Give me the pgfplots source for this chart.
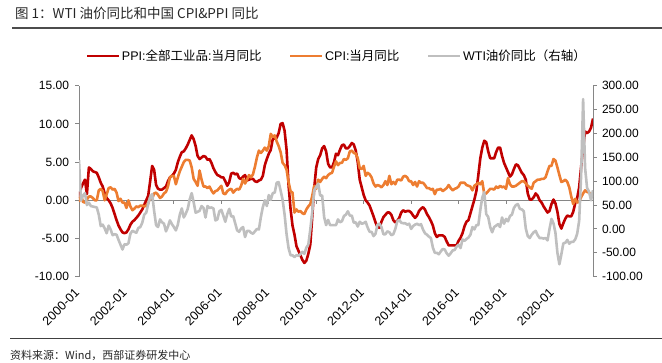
\documentclass[border=0pt]{standalone}
\usepackage{pgfplots}
\pgfplotsset{compat=1.18}
\usepackage{pgfplotstable}
\usepackage{fontspec}
\setmainfont{Liberation Sans}
\newfontfamily\cjk{Noto Sans CJK SC}
\definecolor{ppired}{RGB}{192,0,0}
\definecolor{cpiorange}{RGB}{237,125,49}
\definecolor{wtigray}{RGB}{191,191,191}
\definecolor{axgray}{RGB}{134,134,134}

% PPI YoY (%), monthly from 2000-01 to 2021-09
\pgfplotstableread[row sep=\\, header=false]{
0.3\\1.6\\2.2\\2.7\\0.8\\4.3\\4.1\\3.8\\3.7\\3.6\\3.0\\2.3\\
1.8\\0.9\\0.3\\0.0\\-0.4\\-1.0\\-1.8\\-2.6\\-3.3\\-3.8\\-4.2\\-4.3\\
-4.2\\-3.8\\-3.2\\-2.8\\-2.6\\-2.3\\-2.0\\-1.6\\-1.2\\-0.6\\0.0\\0.6\\
2.5\\4.5\\4.0\\2.0\\1.5\\1.4\\1.4\\1.6\\1.8\\2.5\\3.0\\3.2\\
3.5\\4.0\\5.0\\5.7\\6.3\\6.4\\6.8\\7.3\\7.9\\8.5\\8.0\\7.1\\
5.8\\5.4\\5.6\\5.8\\5.7\\5.3\\5.4\\4.9\\4.2\\3.7\\3.3\\3.2\\
3.0\\3.0\\2.5\\1.9\\2.4\\3.5\\3.6\\3.4\\3.5\\2.9\\2.8\\3.1\\
3.3\\2.6\\2.7\\2.8\\2.8\\2.5\\2.4\\2.6\\2.7\\3.2\\4.6\\5.4\\
6.1\\6.6\\8.0\\8.1\\8.2\\8.8\\10.0\\10.1\\9.1\\6.6\\2.0\\-1.1\\
-3.3\\-4.5\\-6.0\\-6.6\\-7.2\\-7.8\\-8.2\\-7.9\\-7.0\\-5.8\\-2.1\\1.7\\
4.3\\5.4\\5.9\\6.8\\7.1\\6.4\\4.8\\4.3\\4.3\\5.0\\6.1\\5.9\\
6.6\\7.2\\7.3\\6.8\\6.8\\7.1\\7.5\\7.3\\6.5\\5.0\\2.7\\1.7\\
0.7\\0.0\\-0.3\\-0.7\\-1.4\\-2.1\\-2.9\\-3.5\\-3.6\\-2.8\\-2.2\\-1.9\\
-1.6\\-1.6\\-1.9\\-2.6\\-2.9\\-2.7\\-2.3\\-1.6\\-1.3\\-1.5\\-1.4\\-1.4\\
-1.6\\-2.0\\-2.3\\-2.0\\-1.4\\-1.1\\-0.9\\-1.2\\-1.8\\-2.2\\-2.7\\-3.3\\
-4.3\\-4.8\\-4.6\\-4.6\\-4.6\\-4.8\\-5.4\\-5.9\\-5.9\\-5.9\\-5.9\\-5.9\\
-5.3\\-4.9\\-4.3\\-3.4\\-2.8\\-2.6\\-1.7\\-0.8\\0.1\\1.2\\3.3\\5.5\\
6.9\\7.8\\7.6\\6.4\\5.5\\5.5\\5.5\\6.3\\6.9\\6.9\\5.8\\4.9\\
4.3\\3.7\\3.1\\3.4\\4.1\\4.7\\4.6\\4.1\\3.6\\3.3\\2.7\\0.9\\
0.1\\0.1\\0.4\\0.9\\0.6\\0.0\\-0.3\\-0.8\\-1.2\\-1.6\\-1.4\\-0.5\\
0.1\\-0.4\\-1.5\\-3.1\\-3.7\\-3.0\\-2.4\\-2.0\\-2.1\\-2.1\\-1.5\\-0.4\\
0.3\\1.7\\4.4\\6.8\\9.0\\8.8\\9.0\\9.5\\10.7\\
}\ppidata

% CPI YoY (%)
\pgfplotstableread[row sep=\\, header=false]{
-0.2\\0.7\\-0.2\\-0.3\\0.1\\0.5\\0.5\\0.3\\0.0\\0.0\\1.3\\1.5\\
1.2\\0.0\\0.8\\1.6\\1.7\\1.4\\1.5\\1.0\\-0.1\\0.2\\-0.3\\-0.3\\
-1.0\\0.0\\-0.8\\-1.3\\-1.1\\-0.8\\-0.9\\-0.7\\-0.7\\-0.8\\-0.7\\-0.4\\
0.4\\0.2\\0.9\\1.0\\0.7\\0.3\\0.5\\0.9\\1.1\\1.8\\3.0\\3.2\\
3.2\\2.1\\3.0\\3.8\\4.4\\5.0\\5.3\\5.3\\5.2\\4.3\\2.8\\2.4\\
1.9\\3.9\\2.7\\1.8\\1.8\\1.6\\1.8\\1.3\\0.9\\1.2\\1.3\\1.6\\
1.9\\0.9\\0.8\\1.2\\1.4\\1.5\\1.0\\1.3\\1.5\\1.4\\1.9\\2.8\\
2.2\\2.7\\3.3\\3.0\\3.4\\4.4\\5.6\\6.5\\6.2\\6.5\\6.9\\6.5\\
7.1\\8.7\\8.3\\8.5\\7.7\\7.1\\6.3\\4.9\\4.6\\4.0\\2.4\\1.2\\
1.0\\-1.6\\-1.2\\-1.5\\-1.4\\-1.7\\-1.8\\-1.2\\-0.8\\-0.5\\0.6\\1.9\\
1.5\\2.7\\2.4\\2.8\\3.1\\2.9\\3.3\\3.5\\3.6\\4.4\\5.1\\4.6\\
4.9\\4.9\\5.4\\5.3\\5.5\\6.4\\6.5\\6.2\\6.1\\5.5\\4.2\\4.1\\
4.5\\3.2\\3.6\\3.4\\3.0\\2.2\\1.8\\2.0\\1.9\\1.7\\2.0\\2.5\\
2.0\\3.2\\2.1\\2.4\\2.1\\2.7\\2.7\\2.6\\3.1\\3.2\\3.0\\2.5\\
2.5\\2.0\\2.4\\1.8\\2.5\\2.3\\2.3\\2.0\\1.6\\1.6\\1.4\\1.5\\
0.8\\1.4\\1.4\\1.5\\1.2\\1.4\\1.6\\2.0\\1.6\\1.3\\1.5\\1.6\\
1.8\\2.3\\2.3\\2.3\\2.0\\1.9\\1.8\\1.3\\1.9\\2.1\\2.3\\2.1\\
2.5\\0.8\\0.9\\1.2\\1.5\\1.5\\1.4\\1.8\\1.6\\1.9\\1.7\\1.8\\
1.5\\2.9\\2.1\\1.8\\1.8\\1.9\\2.1\\2.3\\2.5\\2.5\\2.2\\1.9\\
1.7\\1.5\\2.3\\2.5\\2.7\\2.7\\2.8\\2.8\\3.0\\3.8\\4.5\\4.5\\
5.4\\5.2\\4.3\\3.3\\2.4\\2.5\\2.7\\2.4\\1.7\\0.5\\-0.5\\0.2\\
-0.3\\-0.2\\0.4\\0.9\\1.3\\1.1\\1.0\\0.8\\0.7\\
}\cpidata

% WTI oil price YoY (%), right axis
\pgfplotstableread[row sep=\\, header=false]{
144\\60\\70\\75\\50\\55\\48\\47\\46\\45\\30\\6\\
9\\1\\-9\\7\\-1\\-13\\-11\\-12\\-23\\-33\\-43\\-32\\
-33\\-30\\-10\\-4\\-6\\-8\\2\\4\\13\\30\\34\\52\\
67\\73\\38\\8\\4\\20\\14\\11\\-5\\5\\18\\10\\
4\\-3\\9\\30\\43\\24\\32\\42\\62\\75\\56\\34\\
36\\38\\48\\44\\24\\48\\44\\45\\43\\18\\20\\37\\
40\\28\\15\\31\\42\\26\\27\\12\\-3\\-6\\1\\4\\
-17\\-4\\-4\\-8\\-10\\-5\\0\\-1\\25\\46\\60\\48\\
71\\61\\75\\76\\97\\98\\80\\61\\30\\-11\\-40\\-55\\
-55\\-59\\-55\\-56\\-53\\-48\\-52\\-39\\-33\\-1\\36\\81\\
88\\95\\70\\70\\25\\8\\19\\8\\8\\8\\8\\20\\
14\\16\\27\\30\\37\\28\\28\\13\\14\\5\\15\\11\\
12\\15\\3\\-6\\-6\\-15\\-10\\9\\11\\4\\-11\\-11\\
-5\\-7\\-13\\-11\\0\\16\\19\\13\\12\\12\\9\\11\\
0\\6\\9\\11\\8\\10\\-1\\-9\\-12\\-16\\-19\\-39\\
-50\\-50\\-53\\-47\\-42\\-43\\-51\\-56\\-51\\-45\\-44\\-37\\
-33\\-40\\-22\\-25\\-21\\-18\\-12\\4\\-1\\8\\8\\40\\
66\\77\\31\\25\\4\\-7\\4\\7\\10\\4\\24\\11\\
21\\16\\27\\30\\44\\50\\52\\42\\41\\37\\1\\-15\\
-19\\-12\\-7\\-4\\-13\\-19\\-19\\-20\\-19\\-24\\0\\21\\
12\\-8\\-50\\-74\\-53\\-30\\-29\\-23\\-31\\-27\\-27\\-22\\
-10\\17\\113\\272\\128\\86\\78\\60\\81\\
}\wtidata

\pgfplotsset{
  common/.style={
    at={(79pt,85.3pt)}, anchor=south west,
    scale only axis, width=514pt, height=191pt,
    xmin=0, xmax=260,
    major tick length=3.5pt,
    tick align=outside,
  }
}

\begin{document}
\begin{tikzpicture}
\path[use as bounding box] (0pt,0pt) rectangle (662pt,362pt);
\node[anchor=west, inner sep=0pt, font=\cjk\fontsize{13.5}{15}\selectfont, text=black!85] at (15pt,349pt) {图 1：WTI 油价同比和中国 CPI\&PPI 同比};
\draw[line width=1.3pt, black!70] (12pt,334pt) -- (662pt,334pt);
\draw[line width=1pt, black!75] (10pt,24pt) -- (662pt,24pt);
\node[anchor=west, inner sep=0pt, font=\cjk\fontsize{11}{13}\selectfont, text=black!85] at (10pt,7pt) {资料来源：Wind，西部证券研发中心};

\begin{axis}[common,
  ymin=-10, ymax=15,
  axis x line*=bottom, axis y line*=left,
  x axis line style={draw=none},
  xtick={0,24,...,240},
  xticklabels={2000-01,2002-01,2004-01,2006-01,2008-01,2010-01,2012-01,2014-01,2016-01,2018-01,2020-01},
  major x tick style={draw=none},
  xticklabel shift=6pt,
  xticklabel style={font=\fontsize{12.5}{14}\selectfont, xshift=-5pt, rotate=45, anchor=north east, inner sep=1pt},
  ytick={-10,-5,0,5,10,15},
  yticklabels={-10.00,-5.00,0.00,5.00,10.00,15.00},
  y axis line style={axgray, line width=0.9pt},
  major y tick style={axgray, line width=0.9pt},
  yticklabel style={font=\fontsize{12}{14}\selectfont, xshift=-3pt},
]
\draw[axgray, line width=0.9pt] (axis cs:0,0) -- (axis cs:260,0);
\pgfplotsinvokeforeach{24,48,...,240}{\draw[axgray, line width=0.9pt] (axis cs:#1,0) -- ++(0pt,-3.5pt);}
\addplot[ppired, line width=2.6pt, no marks, line join=round] table[x expr=\coordindex, y index=0] {\ppidata};
\addplot[cpiorange, line width=2.6pt, no marks, line join=round] table[x expr=\coordindex, y index=0] {\cpidata};
\end{axis}

\begin{axis}[common,
  ymin=-100, ymax=300,
  axis x line=none, axis y line*=right,
  ytick={-100,-50,0,50,100,150,200,250,300},
  yticklabels={-100.00,-50.00,0.00,50.00,100.00,150.00,200.00,250.00,300.00},
  y axis line style={axgray, line width=0.9pt},
  major y tick style={axgray, line width=0.9pt},
  yticklabel style={font=\fontsize{12}{14}\selectfont, xshift=2pt},
  legend columns=3,
  legend cell align=left,
  legend image code/.code={\draw[#1] (0pt,0pt) -- (32pt,0pt);},
  legend style={at={(0.013,1.155)}, anchor=west, draw=none, fill=none,
    inner sep=0pt, font=\fontsize{12.5}{14}\selectfont,
    nodes={inner sep=1.5pt},
    /tikz/every even column/.append style={column sep=26pt}},
]
\addlegendimage{ppired, line width=2.6pt}
\addlegendentry{PPI:{\cjk 全部工业品}:{\cjk 当月同比}}
\addlegendimage{cpiorange, line width=2.6pt}
\addlegendentry{CPI:{\cjk 当月同比}}
\addplot[wtigray, line width=2.6pt, no marks, line join=round] table[x expr=\coordindex, y index=0] {\wtidata};
\addlegendentry{WTI{\cjk 油价同比（右轴）}}
\end{axis}
\end{tikzpicture}
\end{document}
